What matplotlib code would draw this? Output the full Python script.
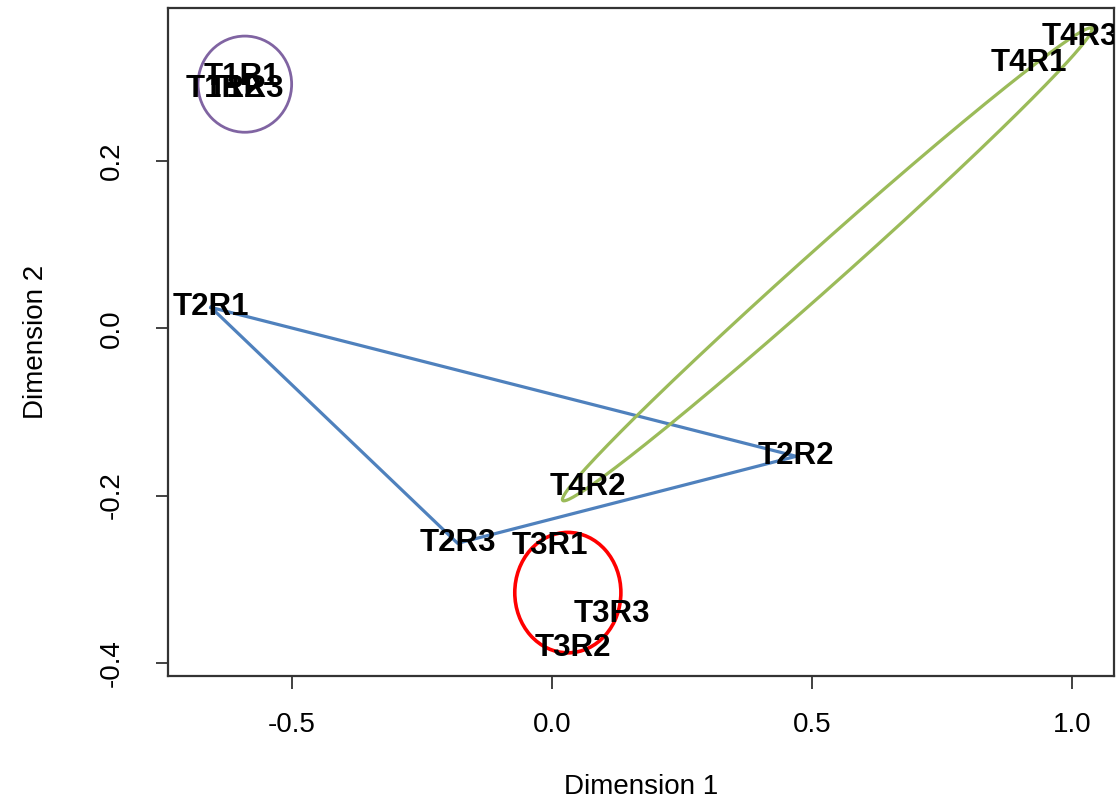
import numpy as np
import matplotlib
matplotlib.use("Agg")
import matplotlib.pyplot as plt
from matplotlib.patches import Ellipse

# MDS coordinates of each sample (Dimension 1, Dimension 2)
labels = ["T1R1", "T1R2", "T1R3", "T2R1", "T2R2", "T2R3",
          "T3R1", "T3R2", "T3R3", "T4R1", "T4R2", "T4R3"]
dim1 = [-0.595, -0.631, -0.588, -0.655, 0.470, -0.181,
        -0.004, 0.040, 0.115, 0.917, 0.069, 1.015]
dim2 = [0.300, 0.286, 0.286, 0.025, -0.153, -0.257,
        -0.260, -0.382, -0.341, 0.317, -0.190, 0.348]

xticks = [-0.5, 0.0, 0.5, 1.0]
yticks = [-0.4, -0.2, 0.0, 0.2]

plt.rcParams['font.family'] = ['Liberation Sans', 'DejaVu Sans']

fig = plt.figure(figsize=(11.19, 8.06), dpi=100)
ax = fig.add_axes([0.150, 0.161, 0.8455, 0.829])
ax.set_xlim(-0.738, 1.081)
ax.set_ylim(-0.416, 0.383)

for lab, x, y in zip(labels, dim1, dim2):
    ax.text(x, y, lab, ha='center', va='center', fontsize=22.5,
            fontweight='bold', color='black', clip_on=True)

# group outlines
pts = dict(zip(labels, zip(dim1, dim2)))
tri = [pts["T2R1"], pts["T2R2"], pts["T2R3"], pts["T2R1"]]
ax.plot([p[0] for p in tri], [p[1] for p in tri], color='#4F81BD', lw=2.3)

ax.add_patch(Ellipse((-0.590, 0.292), 0.180, 0.115, fill=False,
                     edgecolor='#8064A2', lw=2.0))
ax.add_patch(Ellipse((0.031, -0.316), 0.204, 0.144, fill=False,
                     edgecolor='#FF0000', lw=2.6))

# long thin ellipse around T4 group (built in pixel space, then to data)
t = np.linspace(0, 2 * np.pi, 300)
c = np.array([827.5, 264.0])
a = np.array([264.5, -236.0])
b = np.array([0.666, 0.746]) * 19
px = c[0] + a[0] * np.cos(t) + b[0] * np.sin(t)
py = c[1] + a[1] * np.cos(t) + b[1] * np.sin(t)
ax.plot((px - 552) / 520, (328 - py) / 836, color='#9BBB59', lw=2.3)

ax.set_xticks(xticks)
ax.set_xticklabels(["-0.5", "0.0", "0.5", "1.0"], fontsize=20)
ax.set_yticks(yticks)
ax.set_yticklabels(["-0.4", "-0.2", "0.0", "0.2"], fontsize=20,
                   rotation=90, va='center')
ax.tick_params(length=9, width=1.3, color='#333333')
ax.tick_params(axis='x', pad=17)
ax.tick_params(axis='y', pad=22)
for s in ax.spines.values():
    s.set_linewidth(1.6)
    s.set_color('#333333')

ax.set_xlabel("Dimension 1", fontsize=20, labelpad=26)
ax.set_ylabel("Dimension 2", fontsize=20, labelpad=36)

fig.savefig("out.png", dpi=100)
